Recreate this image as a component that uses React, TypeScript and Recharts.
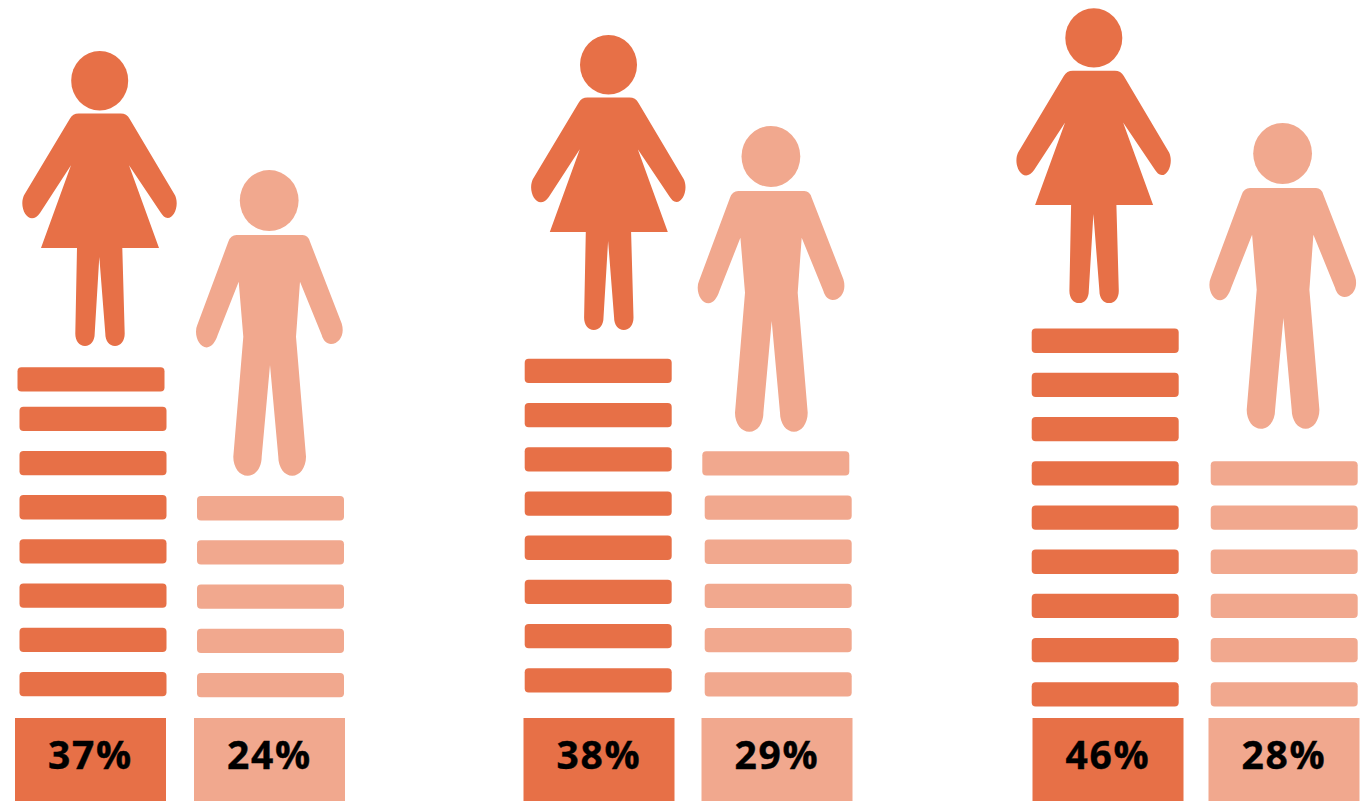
import { Bar, BarChart, XAxis, YAxis } from "recharts"

// Share of each group, per panel, and the number of slabs stacked under each figure
const categories = ["Women", "Men"]
const womenPercents = [37, 38, 46]
const menPercents = [24, 29, 28]
const womenSlabs = [8, 8, 9]
const menSlabs = [5, 6, 6]

const DARK = "#E77047"
const LIGHT = "#F1A88E"

const CHART_H = 806
const AXIS_H = 88
const SLAB_PITCH = 44.2
const SLAB_H = 24.3
const BOX_W = 151
const BOX_H = 83
// Room either side of the two bands, so arms never hit the edge of the svg
const SIDE = 40

// Hand placement of the panels and of the pieces inside each stack
const panels = [
  { left: 1, width: 358 },
  { left: 509.5, width: 356 },
  { left: 1019.5, width: 352 },
]

type Placement = {
  slabDx: number
  lift: number
  capDx: number
  capDy: number
  figDx: number
  figGap: number
}

const placements: Placement[][] = [
  [
    { slabDx: 2.5, lift: 21.8, capDx: -2, capDy: 4.7, figDx: 9.2, figGap: 21.3 },
    { slabDx: 1, lift: 20.8, capDx: 0, capDy: 0, figDx: 0.1, figGap: 20.3 },
  ],
  [
    { slabDx: -1.3, lift: 25.5, capDx: 0, capDy: 0, figDx: 9, figGap: 28.8 },
    { slabDx: 0.7, lift: 21.5, capDx: -2.4, capDy: 0, figDx: -6.2, figGap: 19.5 },
  ],
  [
    { slabDx: -3.3, lift: 11.5, capDx: 0, capDy: 0, figDx: -14.7, figGap: 25.5 },
    { slabDx: -0.3, lift: 11.5, capDx: 0, capDy: 0, figDx: -1.5, figGap: 32.5 },
  ],
]

// Pictograms, origin at the middle of the feet
function Woman({ x, y, fill }: { x: number; y: number; fill: string }) {
  return (
    <g transform={`translate(${x} ${y})`} fill={fill}>
      <ellipse cx={0} cy={-265.2} rx={28.5} ry={29.7} />
      <path d="M-21,-232.4 L21,-232.4 Q27,-232.4 30,-227 L75.3,-150.7 C76.2,-149 77,-146 77,-142.7 C77,-135 73,-128 68,-128 C65,-128 63,-130.5 61.3,-133 L29.3,-180.7 L59.3,-98 L22.6,-98 L25,-12.4 C25,-5 21,0 15.3,0 C9.6,0 5.6,-5 5.6,-12.4 L-0.4,-89 L-5,-12.4 C-5,-5 -9,0 -14.7,0 C-20.4,0 -24.4,-5 -24.4,-12.4 L-22.7,-98 L-58.7,-98 L-28.7,-180.7 L-59.7,-133 C-62,-129.5 -65,-127.7 -67.7,-127.7 C-73,-127.7 -77.4,-135 -77.4,-142.7 C-77.4,-146 -76.5,-149 -75.7,-150.7 L-30,-227 Q-27,-232.4 -21,-232.4 Z" />
    </g>
  )
}

function Man({ x, y, fill }: { x: number; y: number; fill: string }) {
  return (
    <g transform={`translate(${x} ${y})`} fill={fill}>
      <ellipse cx={-0.4} cy={-275.2} rx={29.4} ry={30.5} />
      <path d="M-33,-240.7 L33,-240.7 Q38.5,-240.7 40.4,-234 L72.1,-152.4 Q73.1,-149 73.1,-145.7 C73.1,-138 68,-131.7 61.4,-131.7 C57,-131.7 53.5,-135.5 52.1,-140.7 L30.4,-194 L26.4,-139 L36.4,-19 C36.4,-8 30,0 22.7,0 C15,0 8.7,-8 8.7,-19 L0.4,-110.7 L-7.9,-19 C-7.9,-8 -14,0 -21.9,0 C-30,0 -36.3,-8 -36.3,-19 L-26.3,-139 L-30.9,-194 L-51.9,-140.7 C-54,-134 -58,-128.4 -62.9,-128.4 C-69,-128.4 -73.6,-136 -73.6,-144 Q-73.6,-148 -72.3,-150.7 L-41.3,-234 Q-39,-240.7 -33,-240.7 Z" />
    </g>
  )
}

function StackShape(props: any, panel: number) {
  const { x, y, width, height, index } = props
  const count = props.payload.slabs
  const place = placements[panel][index]
  const fill = index === 0 ? DARK : LIGHT
  const bottom = y + height - place.lift
  const pitch = height / count
  const slabs = []
  for (let i = 0; i < count; i++) {
    const isCap = i === count - 1
    slabs.push(
      <rect
        key={i}
        x={x + place.slabDx + (isCap ? place.capDx : 0)}
        y={bottom - i * pitch - SLAB_H + (isCap ? place.capDy : 0)}
        width={width}
        height={SLAB_H}
        rx={4}
        fill={fill}
      />
    )
  }
  const stackTop = bottom - (count - 1) * pitch - SLAB_H + place.capDy
  const figX = x + width / 2 + place.figDx
  const figY = stackTop - place.figGap
  return (
    <g>
      {slabs}
      {index === 0 ? <Woman x={figX} y={figY} fill={fill} /> : <Man x={figX} y={figY} fill={fill} />}
    </g>
  )
}

function PercentTick(props: any) {
  const { x, y, payload, index } = props
  return (
    <g>
      <rect x={x - BOX_W / 2} y={y} width={BOX_W} height={BOX_H} fill={index === 0 ? DARK : LIGHT} />
      <text
        x={x}
        y={y + 51}
        textAnchor="middle"
        fontFamily="'Open Sans', sans-serif"
        fontWeight={700}
        fontSize={39}
        letterSpacing={1.7}
        stroke="#000"
        strokeWidth={0.4}
        fill="#000"
      >
        {payload.value}%
      </text>
    </g>
  )
}

function Panel({ panel }: { panel: number }) {
  const data = categories.map((name, i) => ({
    name,
    percent: i === 0 ? womenPercents[panel] : menPercents[panel],
    slabs: i === 0 ? womenSlabs[panel] : menSlabs[panel],
  }))
  const { left, width } = panels[panel]
  const plotH = CHART_H - AXIS_H

  return (
    <div style={{ position: "absolute", left: left - SIDE, top: 0 }}>
      <BarChart
        width={width + SIDE * 2}
        height={CHART_H}
        data={data}
        margin={{ top: 0, right: SIDE, bottom: 0, left: SIDE }}
      >
        <XAxis
          dataKey="percent"
          height={AXIS_H}
          axisLine={false}
          tickLine={false}
          tickSize={0}
          tickMargin={0}
          interval={0}
          tick={PercentTick}
        />
        <YAxis hide domain={[0, plotH / SLAB_PITCH]} />
        <Bar
          dataKey="slabs"
          barSize={147}
          isAnimationActive={false}
          shape={(p: any) => StackShape(p, panel)}
        />
      </BarChart>
    </div>
  )
}

export default function App() {
  return (
    <div
      style={{
        position: "absolute",
        left: 0,
        top: 0,
        width: 1365,
        height: CHART_H,
        overflow: "hidden",
        background: "#fff",
      }}
    >
      {panels.map((_, i) => (
        <Panel key={i} panel={i} />
      ))}
    </div>
  )
}
